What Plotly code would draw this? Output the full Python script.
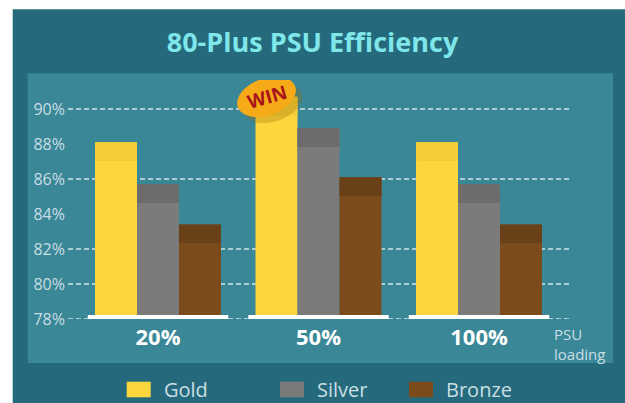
import math
import plotly.graph_objects as go

# ---------------- data ----------------
categories = ["20%", "50%", "100%"]
series_names = ["Gold", "Silver", "Bronze"]
gold = [88.1, 90.7, 88.1]
silver = [85.7, 88.9, 85.7]
bronze = [83.4, 86.1, 83.4]
y_tick_values = [78, 80, 82, 84, 86, 88, 90]
y_tick_labels = ["78%", "80%", "82%", "84%", "86%", "88%", "90%"]
grid_values = [78, 80, 82, 86, 90]
title_text = "80-Plus PSU Efficiency"
axis_title_text = "PSU<br>loading"
badge_text = "WIN"

# ---------------- styles ----------------
FONT = "Open Sans"
body_colors = ["#fcd63d", "#7b7b7b", "#7b4b1b"]
band_colors = ["#f3cc38", "#6c6c6c", "#6a4019"]
OUTER_BG = "#256a7c"
INNER_BG = "#3a8797"
LIGHT_TEXT = "#c9dee3"
BAND = 1.07          # darker top band height (in axis units)
W, H = 625, 403
L, R, T, B = 68, 53, 80, 84   # plot area: x 68..572, y 80..319
PW, PH = W - L - R, H - T - B
Y0 = 78
Y_TOP = Y0 + PH / 17.5
X_RANGE = [-0.5607, 2.5794]
BARGAP = 0.215


def px_x(px):
    return (px - L) / PW


def px_y(py):
    return (H - B - py) / PH


series_values = [gold, silver, bronze]

fig = go.Figure()
for name, vals, c_body, c_band in zip(series_names, series_values, body_colors, band_colors):
    fig.add_trace(go.Bar(
        x=categories, y=vals, name=name, offsetgroup=name,
        marker=dict(color=c_body, line=dict(width=0)), showlegend=False,
    ))
    fig.add_trace(go.Bar(
        x=categories, y=[BAND] * len(vals), base=[v - BAND for v in vals],
        offsetgroup=name, marker=dict(color=c_band, line=dict(width=0)),
        showlegend=False, hoverinfo="skip",
    ))

shapes = []
# panels
shapes.append(dict(type="rect", xref="paper", yref="paper", layer="below",
                   x0=px_x(12.7), x1=px_x(640), y0=px_y(420), y1=px_y(9.3),
                   fillcolor=OUTER_BG, line=dict(width=0)))
shapes.append(dict(type="rect", xref="paper", yref="paper", layer="below",
                   x0=px_x(27.7), x1=px_x(613), y0=px_y(363), y1=px_y(73.3),
                   fillcolor=INNER_BG, line=dict(width=0)))
# dashed grid lines
for gv in grid_values:
    shapes.append(dict(type="line", xref="paper", yref="y", layer="below",
                       x0=0, x1=1, y0=gv, y1=gv,
                       line=dict(color="rgba(235,245,247,0.85)", width=1.3, dash="5px,3px")))
# white base under each group
group_w = 1 - BARGAP
for i, _ in enumerate(categories):
    shapes.append(dict(type="rect", xref="x", yref="y", layer="above",
                       x0=i - group_w / 2 - 0.045, x1=i + group_w / 2 + 0.045,
                       y0=Y0, y1=Y0 + 0.23, fillcolor="#ffffff", line=dict(width=0)))

# WIN badge anchored at the highest gold bar
best = max(range(len(gold)), key=lambda k: gold[k])


def ellipse_path(cx, cy, a, b, ang_deg, n=48):
    t = math.radians(ang_deg)
    pts = []
    for k in range(n):
        u = 2 * math.pi * k / n
        ex, ey = a * math.cos(u), b * math.sin(u)
        pts.append((cx + ex * math.cos(t) - ey * math.sin(t),
                    cy + ex * math.sin(t) + ey * math.cos(t)))
    return "M" + " L".join(f"{x:.2f},{y:.2f}" for x, y in pts) + " Z"


shapes.append(dict(type="path", xref="x", yref="y", xsizemode="pixel", ysizemode="pixel",
                   xanchor=best, yanchor=gold[best], layer="above",
                   path=ellipse_path(-45, -7, 30, 17.5, 20),
                   fillcolor="rgba(150,105,0,0.28)", line=dict(width=0)))
shapes.append(dict(type="path", xref="x", yref="y", xsizemode="pixel", ysizemode="pixel",
                   xanchor=best, yanchor=gold[best], layer="above",
                   path=ellipse_path(-52, 0, 30.5, 18.5, 20),
                   fillcolor="#f7aa17", line=dict(width=0)))

annotations = []
annotations.append(dict(x=best, y=gold[best], xref="x", yref="y", xshift=-52, yshift=0,
                        text=badge_text, showarrow=False, textangle=-16,
                        font=dict(family=FONT, size=19, color="#a8141c", weight="bold")))
annotations.append(dict(x=px_x(552), y=px_y(344), xref="paper", yref="paper",
                        xanchor="left", yanchor="middle", align="left", showarrow=False,
                        text=axis_title_text,
                        font=dict(family=FONT, size=15, color=LIGHT_TEXT)))

# custom legend
legend_swatch_x = [126.7, 280, 409]
for name, c, sx in zip(series_names, body_colors, legend_swatch_x):
    shapes.append(dict(type="rect", xref="paper", yref="paper", layer="above",
                       x0=px_x(sx), x1=px_x(sx + 24), y0=px_y(397.3), y1=px_y(381.7),
                       fillcolor=c, line=dict(width=0)))
    annotations.append(dict(x=px_x(sx + 35), y=px_y(389), xref="paper", yref="paper",
                            xanchor="left", yanchor="middle", showarrow=False, text=name,
                            font=dict(family=FONT, size=20, color=LIGHT_TEXT)))

fig.update_layout(
    width=W, height=H,
    margin=dict(l=L, r=R, t=T, b=B, pad=0),
    paper_bgcolor="#ffffff", plot_bgcolor="rgba(0,0,0,0)",
    barmode="group", bargap=BARGAP, bargroupgap=0,
    showlegend=False,
    title=dict(text=title_text, x=0.5, xref="container", xanchor="center",
               y=1 - 43 / H, yref="container", yanchor="middle",
               font=dict(family=FONT, size=27, color="#7fe6e9", weight="bold")),
    xaxis=dict(type="category", range=X_RANGE, showgrid=False, showline=False,
               zeroline=False, ticks="", ticklabelstandoff=3,
               tickfont=dict(family=FONT, size=22, color="#ffffff", weight="bold")),
    yaxis=dict(range=[Y0, Y_TOP], showgrid=False, showline=False, zeroline=False,
               ticks="", tickvals=y_tick_values, ticktext=y_tick_labels,
               ticklabelstandoff=2,
               tickfont=dict(family=FONT, size=16, color=LIGHT_TEXT)),
    shapes=shapes, annotations=annotations,
)

fig.write_html(
    "out.html",
    config={"displayModeBar": False},
    post_script="document.body.style.margin='0px';document.body.style.overflow='hidden';",
)
